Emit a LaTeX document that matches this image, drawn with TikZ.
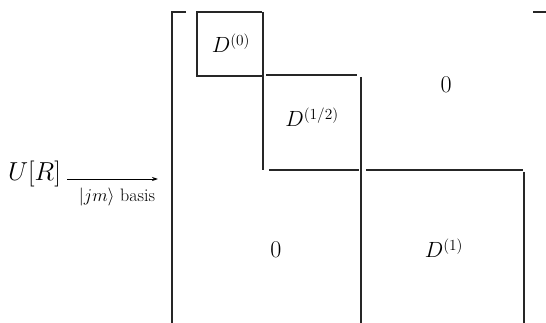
\documentclass[tikz,border=0pt]{standalone}
\usepackage{fix-cm}
\usetikzlibrary{arrows.meta}
\begin{document}
\begin{tikzpicture}[x=1pt,y=-1pt,
  line/.style={line width=1.1pt, draw=black!85},
  big/.style={font=\fontsize{22}{26}\selectfont, inner sep=0pt, anchor=base},
  small/.style={font=\fontsize{18}{21}\selectfont, inner sep=0pt, anchor=base}]
\useasboundingbox (0,0) rectangle (546,323);
% matrix outline
\draw[line] (186,12) -- (172,12) -- (172,323);
\draw[line] (262,12) -- (197,12) -- (197,76) -- (262,76);
\draw[line] (263,12) -- (263,170);
\draw[line] (266,75) -- (357,75);
\draw[line] (361,77) -- (361,323);
\draw[line] (269,170) -- (359,170);
\draw[line] (366,170) -- (523,170);
\draw[line] (524,172) -- (524,323);
\draw[line] (533,12) -- (546,12);
% entries
\node[big] (d0) at (231,53) {$D^{(0)}$};
\node[big] (dh) at (312,127) {$D^{(1/2)}$};
\node[big] (d1) at (444,258) {$D^{(1)}$};
\node[big, font=\fontsize{24}{28}\selectfont] (z1) at (446,93) {$0$};
\node[big, font=\fontsize{24}{28}\selectfont] (z2) at (276,257) {$0$};
% left side
\node[big, anchor=base west, font=\fontsize{26}{30}\selectfont] (ur) at (8,181) {$U[R]$};
\node[small] (lbl) at (117,202) {$|jm\rangle$ basis};
\coordinate (aS) at (67,179);
\coordinate (aE) at (158,179);
\draw[line width=0.8pt, -{Stealth[length=6pt,width=4pt]}] (aS) -- (aE);
\end{tikzpicture}
\end{document}
